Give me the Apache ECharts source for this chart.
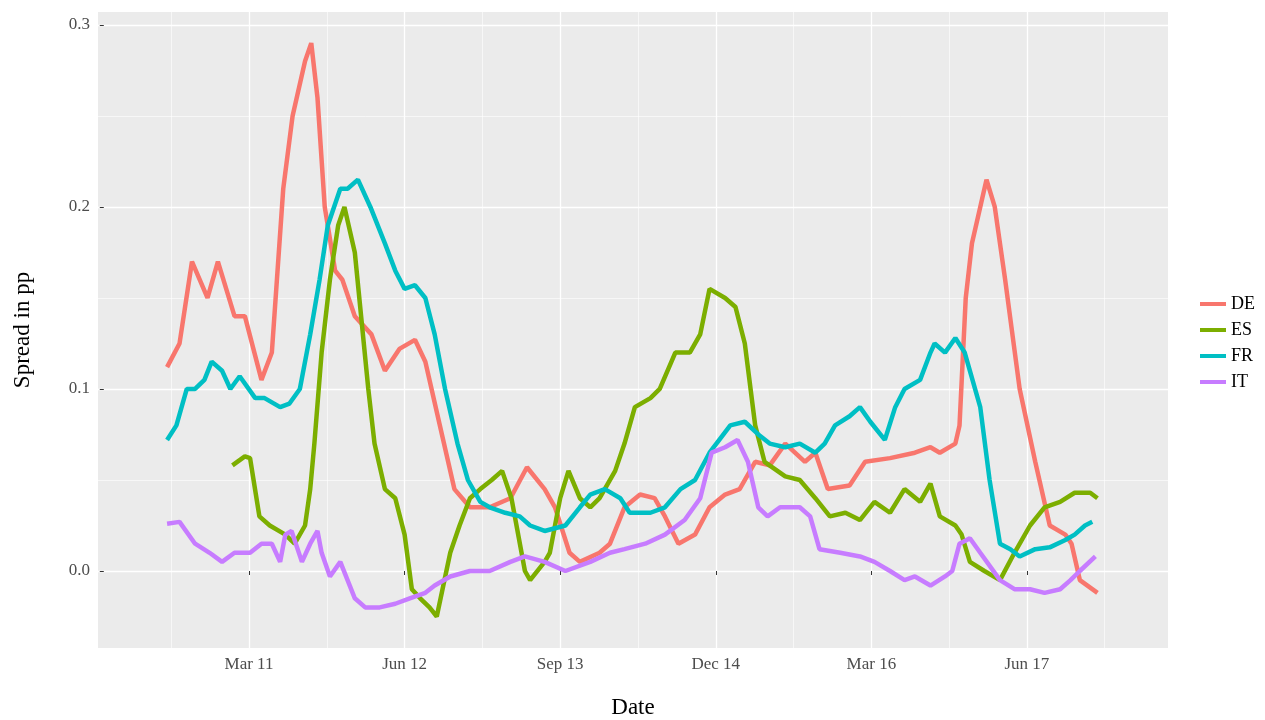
<!DOCTYPE html>
<html>
<head>
<meta charset="utf-8">
<script src="https://cdn.jsdelivr.net/npm/echarts@6/dist/echarts.min.js"></script>
<style>html,body{margin:0;padding:0;background:#fff}#chart{width:1265px;height:720px}</style>
</head>
<body>
<div id="chart"></div>
<script>
// x values are months since Jan 2010 (0 = Jan 10)
const seriesNames = ['DE', 'ES', 'FR', 'IT']
const colors = ['#F8766D', '#7CAE00', '#00BFC4', '#C77CFF']

const tickMonths = [14, 29, 44, 59, 74, 89]
const tickLabels = ['Mar 11', 'Jun 12', 'Sep 13', 'Dec 14', 'Mar 16', 'Jun 17']
const minorMonths = [6.5, 21.5, 36.5, 51.5, 66.5, 81.5, 96.5]
const yTicks = [0, 0.1, 0.2, 0.3]
const yMinor = [0.05, 0.15, 0.25]

const de = [6.1,0.112, 7.3,0.125, 8.5,0.17, 10.0,0.15, 11.0,0.17, 12.6,0.14, 13.6,0.14, 15.2,0.105, 16.2,0.12,
  17.3,0.21, 18.2,0.25, 19.4,0.28, 20.0,0.29, 20.6,0.26, 21.3,0.2, 22.3,0.165, 23.0,0.16, 24.2,0.14, 25.8,0.13,
  27.1,0.11, 28.5,0.122, 30.0,0.127, 31.0,0.115, 32.4,0.08, 33.8,0.045, 35.3,0.035, 37.2,0.035, 39.2,0.04,
  40.8,0.057, 42.5,0.045, 43.5,0.035, 44.9,0.01, 45.9,0.005, 47.8,0.01, 48.8,0.015, 50.2,0.035, 51.7,0.042,
  53.1,0.04, 54.1,0.03, 55.4,0.015, 57.0,0.02, 58.4,0.035, 59.9,0.042, 61.3,0.045, 62.8,0.06, 64.2,0.058,
  65.7,0.07, 67.6,0.06, 68.6,0.065, 69.8,0.045, 71.9,0.047, 73.4,0.06, 75.8,0.062, 78.2,0.065, 79.7,0.068,
  80.6,0.065, 82.1,0.07, 82.5,0.08, 83.1,0.15, 83.7,0.18, 84.5,0.2, 85.1,0.215, 85.9,0.2, 86.9,0.16,
  88.3,0.1, 89.8,0.06, 91.2,0.025, 92.7,0.02, 93.3,0.015, 94.1,-0.005, 95.8,-0.012]

const es = [12.4,0.058, 13.6,0.063, 14.1,0.062, 15.0,0.03, 16.0,0.025, 17.5,0.02, 18.4,0.015, 19.4,0.025,
  19.9,0.045, 20.3,0.07, 21.0,0.12, 21.8,0.16, 22.6,0.19, 23.2,0.2, 24.2,0.175, 25.5,0.1, 26.1,0.07,
  27.1,0.045, 28.1,0.04, 29.0,0.02, 29.7,-0.01, 30.5,-0.015, 31.4,-0.02, 32.1,-0.025, 33.4,0.01, 34.3,0.025,
  35.3,0.04, 36.3,0.045, 37.4,0.05, 38.4,0.055, 39.3,0.04, 40.6,0.0, 41.1,-0.005, 42.5,0.005, 43.0,0.01,
  44.0,0.04, 44.8,0.055, 45.9,0.04, 46.9,0.035, 47.8,0.04, 49.3,0.055, 50.2,0.07, 51.2,0.09, 52.7,0.095,
  53.6,0.1, 55.1,0.12, 56.5,0.12, 57.5,0.13, 58.4,0.155, 59.9,0.15, 60.9,0.145, 61.8,0.125, 62.8,0.08,
  63.7,0.06, 65.7,0.052, 67.1,0.05, 68.6,0.04, 70.0,0.03, 71.5,0.032, 72.9,0.028, 74.3,0.038, 75.8,0.032,
  77.2,0.045, 78.7,0.038, 79.7,0.048, 80.6,0.03, 82.1,0.025, 82.7,0.02, 83.5,0.005, 84.9,0.0, 86.4,-0.005,
  87.8,0.01, 89.3,0.025, 90.7,0.035, 92.2,0.038, 93.6,0.043, 95.1,0.043, 95.8,0.04]

const fr = [6.1,0.072, 7.0,0.08, 8.0,0.1, 8.8,0.1, 9.7,0.105, 10.4,0.115, 11.4,0.11, 12.2,0.1, 13.1,0.107,
  14.6,0.095, 15.5,0.095, 17.0,0.09, 17.9,0.092, 18.9,0.1, 19.9,0.13, 20.8,0.16, 21.6,0.19, 22.8,0.21,
  23.5,0.21, 24.5,0.215, 25.7,0.2, 27.1,0.18, 28.1,0.165, 29.0,0.155, 30.0,0.157, 31.0,0.15, 31.9,0.13,
  32.9,0.1, 34.1,0.07, 35.1,0.05, 36.3,0.038, 37.2,0.035, 38.7,0.032, 40.1,0.03, 41.1,0.025, 42.5,0.022,
  44.5,0.025, 45.9,0.035, 46.9,0.042, 48.3,0.045, 49.8,0.04, 50.7,0.032, 52.7,0.032, 54.1,0.035, 55.6,0.045,
  57.0,0.05, 58.4,0.065, 60.4,0.08, 61.8,0.082, 63.1,0.075, 64.2,0.07, 65.7,0.068, 67.1,0.07, 68.6,0.065,
  69.5,0.07, 70.5,0.08, 71.9,0.085, 72.9,0.09, 73.9,0.082, 75.3,0.072, 76.3,0.09, 77.2,0.1, 78.7,0.105,
  79.7,0.12, 80.1,0.125, 81.1,0.12, 82.1,0.128, 83.0,0.12, 84.5,0.09, 85.4,0.05, 86.4,0.015, 87.4,0.012,
  88.3,0.008, 89.8,0.012, 91.2,0.013, 92.7,0.017, 93.6,0.02, 94.6,0.025, 95.3,0.027]

const it = [6.1,0.026, 7.3,0.027, 8.8,0.015, 10.2,0.01, 11.4,0.005, 12.6,0.01, 14.1,0.01, 15.2,0.015,
  16.2,0.015, 17.0,0.005, 17.5,0.02, 18.1,0.022, 19.1,0.005, 19.9,0.015, 20.6,0.022, 21.0,0.01, 21.8,-0.003,
  22.8,0.005, 24.2,-0.015, 25.2,-0.02, 26.6,-0.02, 28.1,-0.018, 29.5,-0.015, 31.0,-0.012, 31.9,-0.008,
  33.4,-0.003, 35.3,0.0, 37.2,0.0, 39.2,0.005, 40.6,0.008, 42.5,0.005, 44.5,0.0, 46.9,0.005, 48.8,0.01,
  50.2,0.012, 52.2,0.015, 54.1,0.02, 56.0,0.028, 57.5,0.04, 58.6,0.065, 59.9,0.068, 61.1,0.072, 62.1,0.06,
  63.1,0.035, 64.0,0.03, 65.2,0.035, 67.1,0.035, 68.1,0.03, 69.0,0.012, 71.0,0.01, 72.9,0.008, 74.3,0.005,
  75.8,0.0, 77.2,-0.005, 78.2,-0.003, 79.7,-0.008, 81.1,-0.003, 81.8,0.0, 82.5,0.015, 83.5,0.018, 84.5,0.01,
  86.4,-0.005, 87.8,-0.01, 89.3,-0.01, 90.7,-0.012, 92.2,-0.01, 93.2,-0.005, 94.1,0.0, 95.6,0.008]

function pairs(a) {
  const out = []
  for (let i = 0; i < a.length; i += 2) out.push([a[i], a[i + 1]])
  return out
}

const font = 'Liberation Serif'
const xRange = { min: -0.56, max: 102.6 }
const yRange = { min: -0.0423, max: 0.3071 }

const chart = echarts.init(document.getElementById('chart'))
chart.setOption({
  animation: false,
  textStyle: { fontFamily: font },
  grid: { left: 98, right: 97, top: 12, bottom: 72, show: true, backgroundColor: '#EBEBEB', borderWidth: 0,
    containLabel: false, outerBoundsMode: 'none' },
  legend: {
    orient: 'vertical', left: 1195, top: 290, itemGap: 8, itemWidth: 26, itemHeight: 22,
    icon: 'path://M0,9.5 L26,9.5 L26,13.5 L0,13.5 Z',
    textStyle: { fontSize: 18, color: '#000', fontFamily: font },
    data: seriesNames
  },
  xAxis: [{
    type: 'value', ...xRange,
    name: 'Date', nameLocation: 'middle', nameGap: 48,
    nameTextStyle: { fontSize: 23, color: '#000', fontFamily: font },
    axisLine: { show: false },
    axisTick: { show: true, length: 4, lineStyle: { color: '#333' }, customValues: tickMonths },
    axisLabel: { fontSize: 17, color: '#4D4D4D', margin: 8, customValues: tickMonths,
      formatter: v => tickLabels[tickMonths.indexOf(v)] || '' },
    splitLine: { show: true, lineStyle: { color: '#fff', width: 1.3 } }
  }, {
    type: 'value', ...xRange, show: true, position: 'bottom',
    axisLine: { show: false }, axisLabel: { show: false },
    axisTick: { show: false, customValues: minorMonths },
    splitLine: { show: true, lineStyle: { color: '#fff', width: 0.6 } }
  }],
  yAxis: [{
    type: 'value', ...yRange,
    name: 'Spread in pp', nameLocation: 'middle', nameGap: 64,
    nameTextStyle: { fontSize: 23, color: '#000', fontFamily: font },
    axisLine: { show: false },
    axisTick: { show: true, length: 4, lineStyle: { color: '#333' }, customValues: yTicks },
    axisLabel: { fontSize: 17, color: '#4D4D4D', margin: 8, customValues: yTicks, formatter: v => v.toFixed(1) },
    splitLine: { show: true, lineStyle: { color: '#fff', width: 1.3 } }
  }, {
    type: 'value', ...yRange, position: 'left',
    axisLine: { show: false }, axisLabel: { show: false },
    axisTick: { show: false, customValues: yMinor },
    splitLine: { show: true, lineStyle: { color: '#fff', width: 0.6 } }
  }],
  series: [de, es, fr, it].map((d, i) => ({
    name: seriesNames[i], type: 'line', data: pairs(d), showSymbol: false, symbol: 'none',
    color: colors[i], lineStyle: { width: 4.5, color: colors[i] }
  }))
})
</script>
</body>
</html>
